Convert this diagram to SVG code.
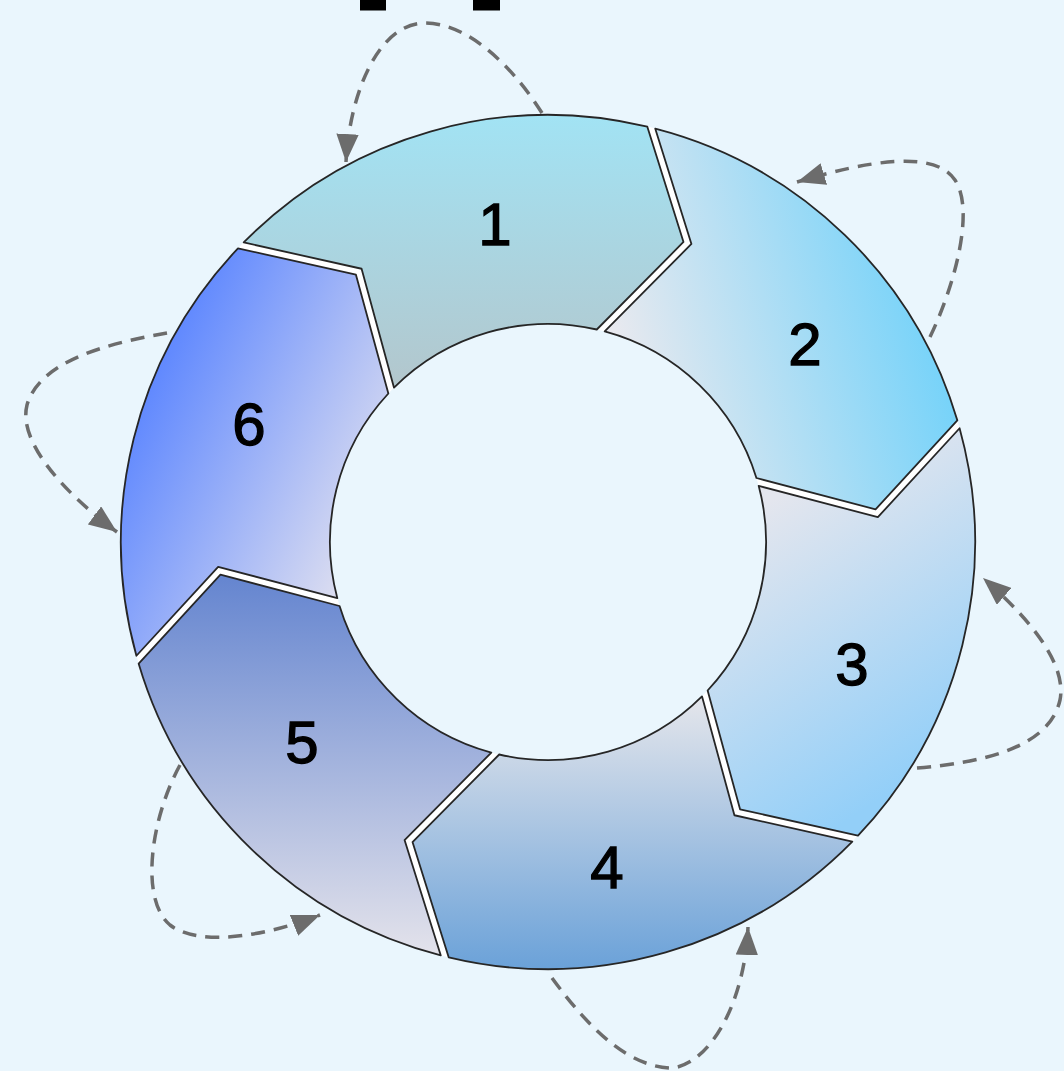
<svg xmlns="http://www.w3.org/2000/svg" xmlns:xlink="http://www.w3.org/1999/xlink" width="1064" height="1071" viewBox="0 0 1064 1071">
  <style>
    .seg { stroke: #262626; stroke-width: 1.8; stroke-linejoin: round; }
    .lbl { font-family: "Liberation Sans", Arial, sans-serif; font-size: 60px; fill: #000; stroke: #000; stroke-width: 1.3; text-anchor: middle; }
    .conn { fill: none; stroke: #6c6c6c; stroke-width: 3.5; stroke-dasharray: 14 9; marker-end: url(#arrow); }
  </style>
  <defs>
    <path id="segShape" d="M 4.10,-427 A 427,427 0 0 1 367.74,-217.05 L 309.93,-110.94 L 186.75,-112.52 A 218,218 0 0 0 4.07,-217.99 L 67.06,-323.92 Z"/>
    <marker id="arrow" markerUnits="userSpaceOnUse" viewBox="0 0 10 8" markerWidth="28" markerHeight="22.4" refX="10" refY="4" orient="auto">
      <path d="M0,0 L10,4 L0,8 Z" fill="#6c6c6c"/>
    </marker>
    <linearGradient id="g1" gradientUnits="userSpaceOnUse" gradientTransform="rotate(46)" x1="0" y1="-427" x2="0" y2="-150">
      <stop offset="0" stop-color="#a2e3f4"/>
      <stop offset="1" stop-color="#b3c6cc"/>
    </linearGradient>
    <linearGradient id="g2" gradientUnits="userSpaceOnUse" gradientTransform="rotate(-14)" x1="72" y1="-192" x2="392" y2="-282">
      <stop offset="0" stop-color="#e8e9ef"/>
      <stop offset="1" stop-color="#6dd1fa"/>
    </linearGradient>
    <linearGradient id="g3" gradientUnits="userSpaceOnUse" gradientTransform="rotate(-74)" x1="222" y1="-42" x2="392" y2="218">
      <stop offset="0" stop-color="#e4e6ee"/>
      <stop offset="1" stop-color="#93cff8"/>
    </linearGradient>
    <linearGradient id="g4" gradientUnits="userSpaceOnUse" gradientTransform="rotate(-134)" x1="0" y1="158" x2="0" y2="433">
      <stop offset="0" stop-color="#e3e5eb"/>
      <stop offset="1" stop-color="#68a0d8"/>
    </linearGradient>
    <linearGradient id="g5" gradientUnits="userSpaceOnUse" gradientTransform="rotate(-194)" x1="0" y1="38" x2="0" y2="415">
      <stop offset="0" stop-color="#6686d0"/>
      <stop offset="1" stop-color="#e4e3eb"/>
    </linearGradient>
    <linearGradient id="g6" gradientUnits="userSpaceOnUse" gradientTransform="rotate(-254)" x1="-418" y1="-142" x2="-168" y2="-22">
      <stop offset="0" stop-color="#5b85ff"/>
      <stop offset="1" stop-color="#dedff0"/>
    </linearGradient>
  </defs>

  <rect x="0" y="0" width="1064" height="1071" fill="#eaf6fd"/>

  <g id="title-fragment">
    <rect x="360" y="0" width="26" height="10.5" fill="#000"/>
    <rect x="473" y="0" width="27" height="10.5" fill="#000"/>
  </g>

  <g id="connectors">
    <path class="conn" d="M 542,113 C 515,70 470,23 425,23 C 380,23 350,90 346,162"/>
    <path class="conn" d="M 930,337 C 955,285 975,210 955,180 C 935,150 870,160 797,182"/>
    <path class="conn" d="M 917,768 C 990,762 1050,745 1060,700 C 1068,660 1020,610 983,578"/>
    <path class="conn" d="M 552,978 C 590,1030 630,1068 673,1068 C 712,1062 745,1000 748,927"/>
    <path class="conn" d="M 180,765 C 150,820 140,900 170,925 C 200,948 270,935 320,915"/>
    <path class="conn" d="M 167,333 C 110,343 40,360 27,405 C 18,440 60,490 117,532"/>
  </g>

  <path id="ring-gap" fill="#ffffff" fill-rule="evenodd" d="M121,542 a427,427 0 1,0 854,0 a427,427 0 1,0 -854,0 Z M330,542 a218,218 0 1,0 436,0 a218,218 0 1,0 -436,0 Z"/>

  <g id="node1">
    <use xlink:href="#segShape" class="seg" fill="url(#g1)" transform="translate(548 542) rotate(-46)"/>
    <text class="lbl" x="495" y="245">1</text>
  </g>
  <g id="node2">
    <use xlink:href="#segShape" class="seg" fill="url(#g2)" transform="translate(548 542) rotate(14)"/>
    <text class="lbl" x="805" y="365">2</text>
  </g>
  <g id="node3">
    <use xlink:href="#segShape" class="seg" fill="url(#g3)" transform="translate(548 542) rotate(74)"/>
    <text class="lbl" x="852" y="685">3</text>
  </g>
  <g id="node4">
    <use xlink:href="#segShape" class="seg" fill="url(#g4)" transform="translate(548 542) rotate(134)"/>
    <text class="lbl" x="607" y="888">4</text>
  </g>
  <g id="node5">
    <use xlink:href="#segShape" class="seg" fill="url(#g5)" transform="translate(548 542) rotate(194)"/>
    <text class="lbl" x="302" y="763">5</text>
  </g>
  <g id="node6">
    <use xlink:href="#segShape" class="seg" fill="url(#g6)" transform="translate(548 542) rotate(254)"/>
    <text class="lbl" x="249" y="445">6</text>
  </g>
</svg>
